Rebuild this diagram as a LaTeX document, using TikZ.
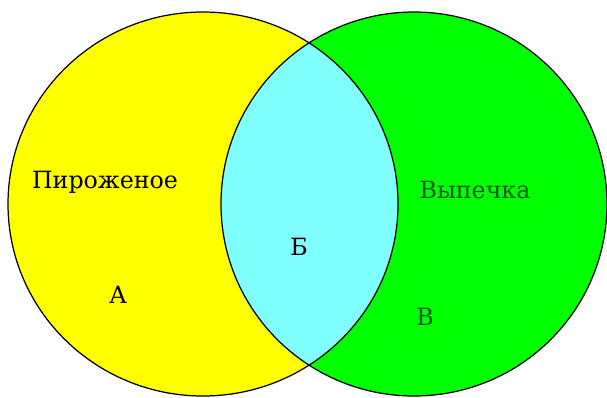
\documentclass[tikz,border=0pt]{standalone}
\usepackage{fontspec}
\setmainfont{DejaVu Serif}
\usetikzlibrary{positioning}
\definecolor{setyellow}{RGB}{255,255,0}
\definecolor{setgreen}{RGB}{0,255,0}
\definecolor{setcyan}{RGB}{128,255,255}
\begin{document}
\begin{tikzpicture}[
    x=0.02cm, y=0.02cm,
    every node/.style={font=\fontsize{13.5}{16}\selectfont, inner sep=0pt},
    border/.style={draw=black, line width=0.7pt},
    greentext/.style={text=green!35!black}
]
\useasboundingbox[fill=white] (0,0) rectangle (607,397);
% Sets
\fill[setyellow] (203,193) ellipse [x radius=195, y radius=192];
\fill[setgreen] (414,193) ellipse [x radius=193, y radius=192];
\begin{scope}
  \clip (203,193) ellipse [x radius=195, y radius=192];
  \fill[setcyan] (414,193) ellipse [x radius=193, y radius=192];
\end{scope}
\draw[border] (203,193) ellipse [x radius=195, y radius=192];
\draw[border] (414,193) ellipse [x radius=193, y radius=192];
% Labels
\node (cake) at (105,215) {Пироженое};
\node[greentext] (pastry) at (475,207) {Выпечка};
\node (setA) at (118,102) {А};
\node (setB) at (299,150) {Б};
\node[greentext] (setV) at (425,80) {В};
\end{tikzpicture}
\end{document}
